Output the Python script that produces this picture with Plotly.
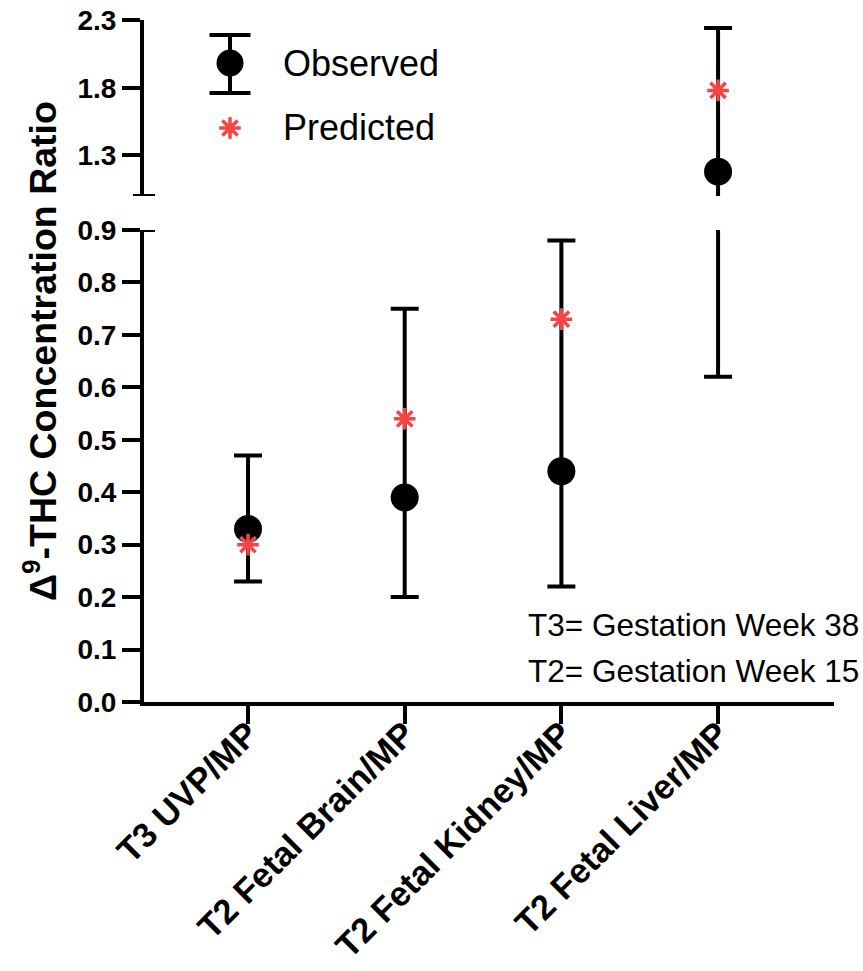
import plotly.graph_objects as go

# ---------------- data ----------------
categories = ["T3 UVP/MP", "T2 Fetal Brain/MP", "T2 Fetal Kidney/MP", "T2 Fetal Liver/MP"]
observed = [0.33, 0.39, 0.44, 1.18]
observed_low = [0.23, 0.20, 0.22, 0.62]
observed_high = [0.47, 0.75, 0.88, 2.24]
predicted = [0.30, 0.54, 0.73, 1.78]
lower_ticks = [0.0, 0.1, 0.2, 0.3, 0.4, 0.5, 0.6, 0.7, 0.8, 0.9]
upper_ticks = [1.3, 1.8, 2.3]
note_lines = ["T3= Gestation Week 38", "T2= Gestation Week 15"]

err_plus = [h - o for h, o in zip(observed_high, observed)]
err_minus = [o - l for o, l in zip(observed, observed_low)]

# ---------------- layout helpers ----------------
W, H = 863, 971
L, R, T, B = 144, 29, 20, 269
PW, PH = W - L - R, H - T - B


def px(x):
    return (x - L) / PW


def py(y):
    return (H - B - y) / PH


RED = "#F44545"
FONT = "Liberation Sans, Arial, sans-serif"

fig = go.Figure()

for yax in ["y", "y2"]:
    fig.add_trace(go.Scatter(
        x=categories, y=observed, yaxis=yax, mode="markers",
        marker=dict(symbol="circle", size=28, color="black"),
        error_y=dict(type="data", array=err_plus, arrayminus=err_minus,
                     color="black", thickness=4, width=14),
        showlegend=False, cliponaxis=True, name="Observed"))
    fig.add_trace(go.Scatter(
        x=categories, y=predicted, yaxis=yax, mode="markers",
        marker=dict(symbol="asterisk-open", size=18, color=RED,
                    line=dict(color=RED, width=3.5)),
        showlegend=False, cliponaxis=True, name="Predicted"))

axis_common = dict(showline=True, linecolor="black", linewidth=4,
                   ticks="outside", ticklen=18, tickwidth=4, tickcolor="black",
                   showgrid=False, zeroline=False, automargin=False)

yfont = dict(family=FONT, size=28, color="black", weight="bold")
xfont = dict(family=FONT, size=34.5, color="black", weight="bold")

fig.update_layout(
    width=W, height=H,
    margin=dict(l=L, r=R, t=T, b=B, pad=0, autoexpand=False),
    plot_bgcolor="white", paper_bgcolor="white",
    showlegend=False,
    xaxis=dict(**axis_common, anchor="y", range=[-0.664, 3.74],
               tickangle=-45, type="category", tickfont=xfont,
               ticklabelstandoff=-24),
    yaxis=dict(**axis_common, domain=[0, 472 / PH], range=[0, 0.9],
               tickvals=lower_ticks, ticktext=[f"{v:.1f}" for v in lower_ticks],
               anchor="x", tickfont=yfont),
    yaxis2=dict(**axis_common, domain=[py(196), 1.0], range=[1.0, 2.3],
                tickvals=upper_ticks, ticktext=[f"{v:.1f}" for v in upper_ticks],
                anchor="x", tickfont=yfont),
)

shapes = []
# axis-break caps
shapes.append(dict(type="line", xref="paper", yref="y", x0=px(133), x1=px(155),
                   y0=0.9, y1=0.9, line=dict(color="black", width=4)))
shapes.append(dict(type="line", xref="paper", yref="y2", x0=px(133), x1=px(155),
                   y0=1.0, y1=1.0, line=dict(color="black", width=4)))
# legend glyph: observed (circle with error bar)
lx = 230
shapes.append(dict(type="line", xref="paper", yref="paper", x0=px(lx), x1=px(lx),
                   y0=py(35), y1=py(93), line=dict(color="black", width=4)))
for yy in (35, 93):
    shapes.append(dict(type="line", xref="paper", yref="paper", x0=px(lx - 20.5),
                       x1=px(lx + 20.5), y0=py(yy), y1=py(yy),
                       line=dict(color="black", width=4)))
shapes.append(dict(type="circle", xref="paper", yref="paper",
                   x0=px(lx - 13.5), x1=px(lx + 13.5), y0=py(63 + 13.5), y1=py(63 - 13.5),
                   fillcolor="black", line=dict(color="black", width=0)))
# legend glyph: predicted (asterisk)
cy = 128
rc, rs = 10.8, 7.6
path = (f"M{px(lx)},{py(cy - rc)} L{px(lx)},{py(cy + rc)} "
        f"M{px(lx - rc)},{py(cy)} L{px(lx + rc)},{py(cy)} "
        f"M{px(lx - rs)},{py(cy - rs)} L{px(lx + rs)},{py(cy + rs)} "
        f"M{px(lx - rs)},{py(cy + rs)} L{px(lx + rs)},{py(cy - rs)}")
shapes.append(dict(type="path", xref="paper", yref="paper", path=path,
                   line=dict(color=RED, width=3.5)))
fig.update_layout(shapes=shapes)

annotations = [
    dict(text="Observed", x=px(281), y=py(63), xref="paper", yref="paper",
         xanchor="left", yanchor="middle", showarrow=False,
         font=dict(family=FONT, size=36, color="black")),
    dict(text="Predicted", x=px(281), y=py(128), xref="paper", yref="paper",
         xanchor="left", yanchor="middle", showarrow=False,
         font=dict(family=FONT, size=36, color="black")),
    dict(text=note_lines[0], x=px(526), y=py(625), xref="paper", yref="paper",
         xanchor="left", yanchor="middle", showarrow=False,
         font=dict(family=FONT, size=31.5, color="black")),
    dict(text=note_lines[1], x=px(526), y=py(671), xref="paper", yref="paper",
         xanchor="left", yanchor="middle", showarrow=False,
         font=dict(family=FONT, size=31.5, color="black")),
    dict(text="Δ<sup>9</sup>-THC Concentration Ratio", x=px(40), y=py(351),
         xref="paper", yref="paper", xanchor="center", yanchor="middle",
         textangle=-90, showarrow=False,
         font=dict(family=FONT, size=37.5, color="black", weight="bold")),
]
fig.update_layout(annotations=annotations)

fig.write_html("out.html", config={"displayModeBar": False},
               post_script="document.body.style.margin='0';document.body.style.padding='0';")
